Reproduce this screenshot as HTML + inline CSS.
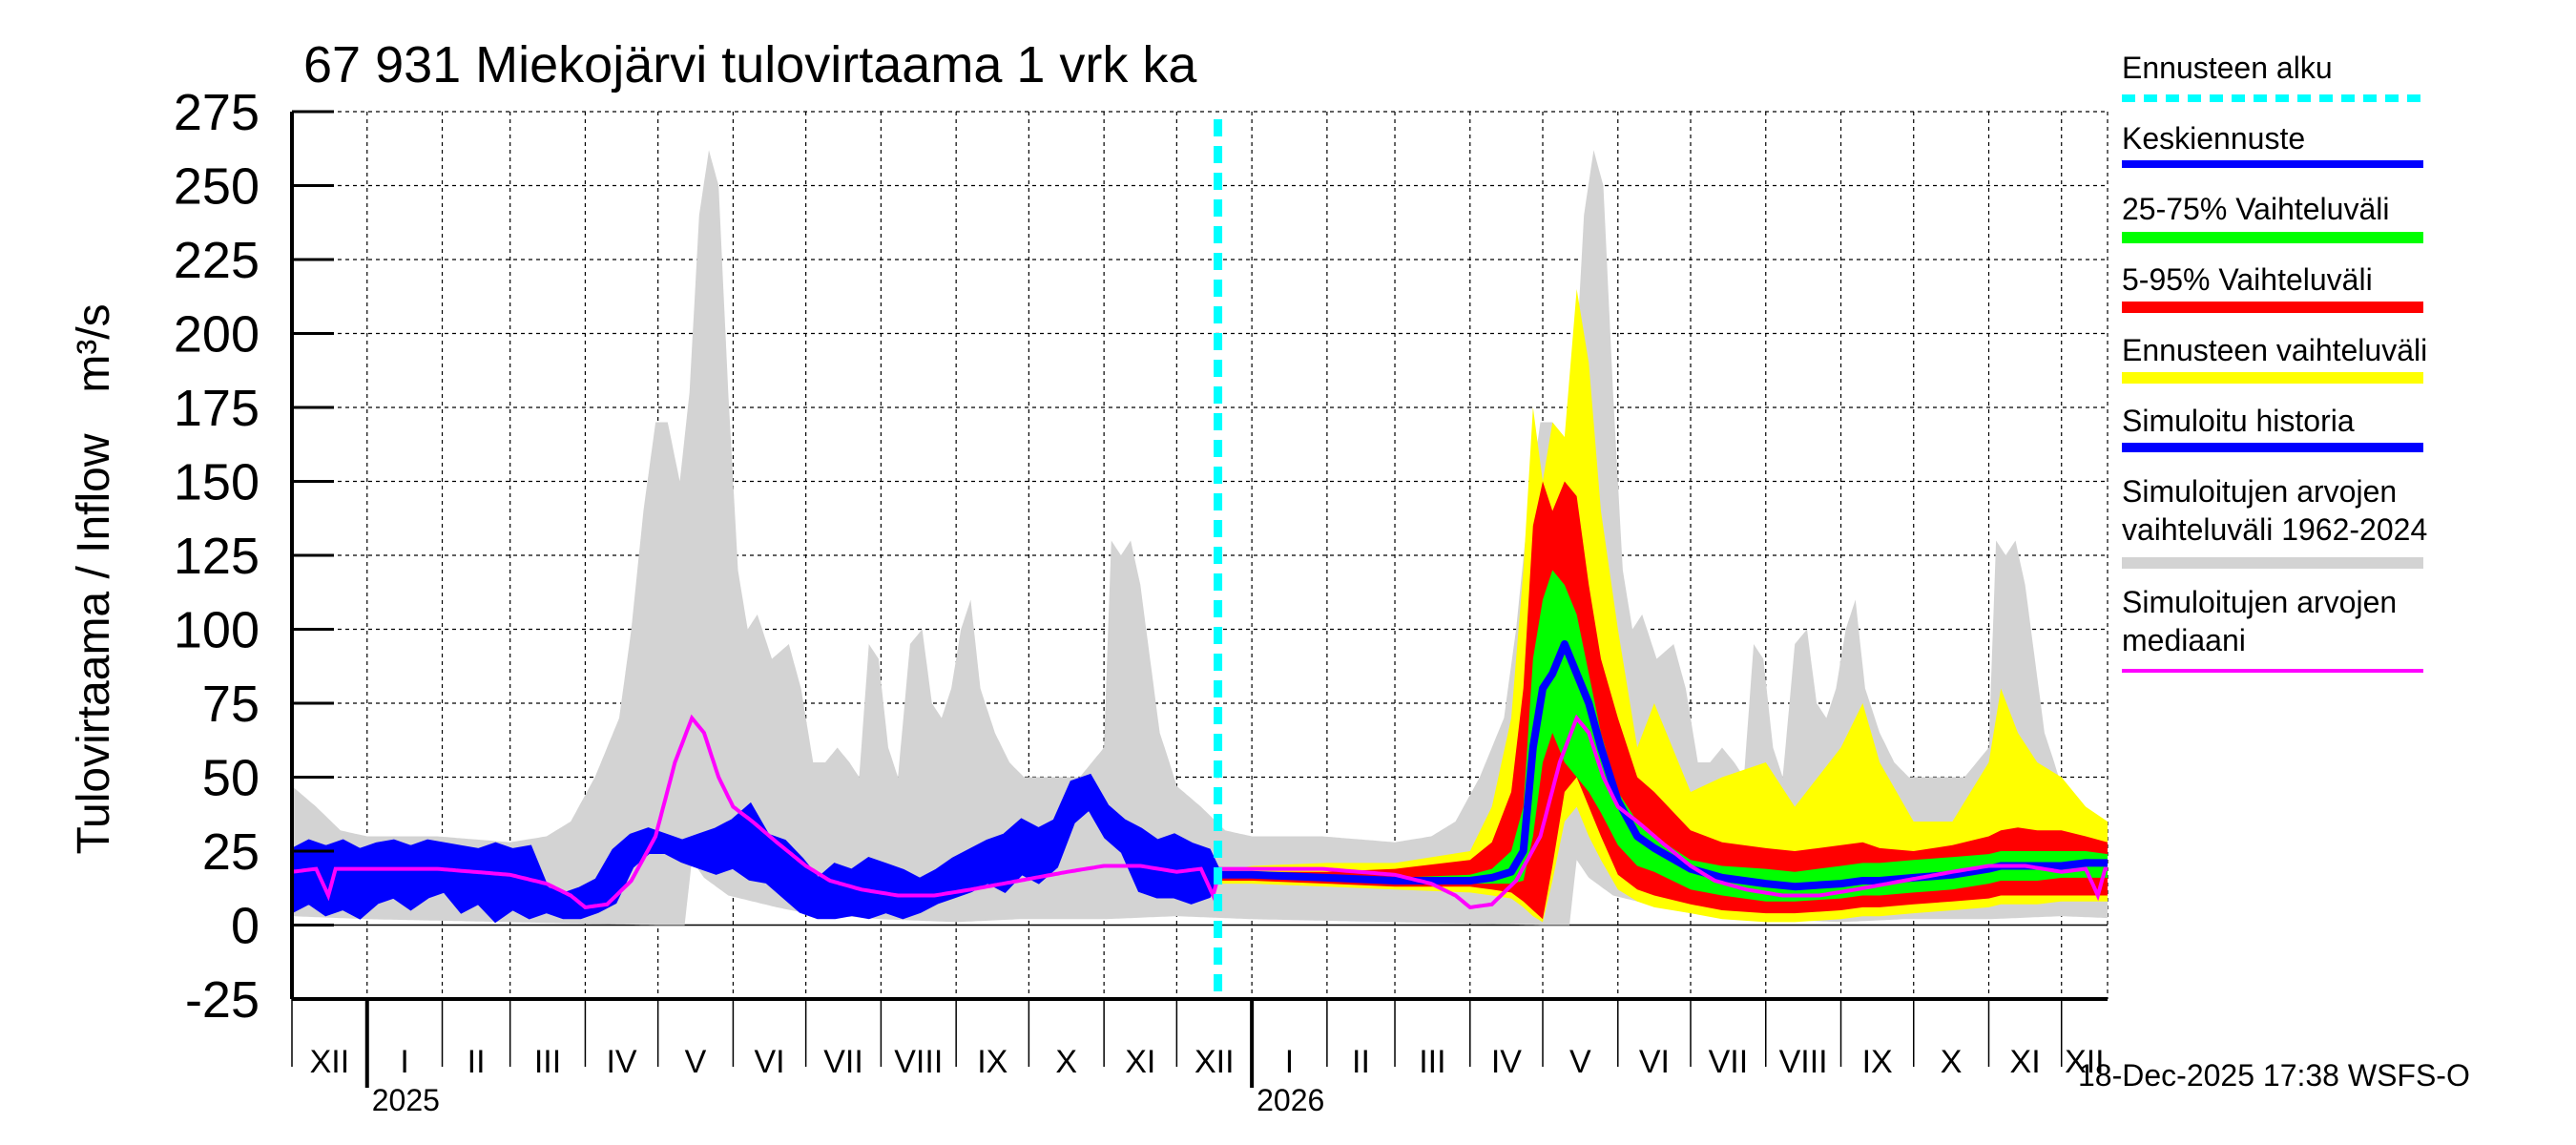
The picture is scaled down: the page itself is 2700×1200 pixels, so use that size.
<!DOCTYPE html>
<html><head><meta charset="utf-8">
<style>
html,body{margin:0;padding:0;background:#fff;}
svg{display:block;font-family:"Liberation Sans",sans-serif;}
</style></head>
<body>
<svg id="chart" width="2700" height="1200" viewBox="0 0 2700 1200" xmlns="http://www.w3.org/2000/svg">
<defs><clipPath id="plotclip"><rect x="306" y="117" width="1903" height="930"/></clipPath></defs>
<text x="318" y="86" font-size="54">67 931 Miekojärvi tulovirtaama 1 vrk ka</text>
<text transform="translate(114,675) rotate(-90)" text-anchor="middle" font-size="48">Tulovirtaama / Inflow</text>
<text transform="translate(114,365) rotate(-90)" text-anchor="middle" font-size="48">m³/s</text>
<g id="grid"></g>
<g id="series" clip-path="url(#plotclip)"></g>
<g id="axes"></g>
<g id="legend"></g>
<text x="2178" y="1138" font-size="32">18-Dec-2025 17:38 WSFS-O</text>
</svg>
<script>
// ---- data ----
const yTicks = [-25,0,25,50,75,100,125,150,175,200,225,250,275];
const monthLabels = ["XII","I","II","III","IV","V","VI","VII","VIII","IX","X","XI","XII","I","II","III","IV","V","VI","VII","VIII","IX","X","XI","XII"];
const monthStarts = [0,31,62,90,121,151,182,212,243,274,304,335,365,396,427,455,486,516,547,577,608,639,669,700,730];
const yearLabels = ["2025","2026"];
const yearStarts = [31,396];
const forecastStart = 382;
// climatology (day offset from 1 Dec)
const climDays = [0,10,20,31,60,90,105,115,125,135,140,145,150,155,160,164,168,172,176,180,184,188,192,198,205,210,215,220,225,230,234,238,242,246,250,255,260,264,268,272,276,280,284,290,296,302,312,325,335,338,342,346,350,354,358,362,365];
const climMax = [47,40,32,30,30,28,30,35,50,70,100,140,170,170,150,180,240,262,250,180,120,100,105,90,95,80,55,55,60,55,50,95,90,60,50,95,100,75,70,80,100,110,80,65,55,50,50,50,60,130,125,130,115,90,65,55,47];
const minDays = [0,31,90,150,162,165,170,180,190,200,212,243,274,300,335,365];
const climMin = [3,2,1,0,0,22,16,10,8,6,4,2,1,2,2,3];
const medDays = [0,10,15,18,31,60,90,105,115,121,130,140,150,158,165,170,176,182,190,200,212,222,235,250,265,280,300,320,335,350,365];
const medVals = [18,19,10,19,19,19,17,14,10,6,7,15,30,55,70,65,50,40,35,28,20,15,12,10,10,12,15,18,20,20,18];
// simulated history
const histDays = [0,7,14,21,28,35,42,49,56,63,70,77,84,91,98,105,112,119,126,133,140,147,154,161,168,175,182,189,196,203,210,217,224,231,238,245,252,259,266,273,280,287,294,301,308,315,322,329,336,343,350,357,364,371,378,382];
const histLo = [5,8,4,6,3,8,10,6,10,12,5,8,2,6,3,5,3,3,5,8,20,25,25,22,20,18,20,16,15,10,5,3,3,4,3,5,3,5,8,10,12,15,12,18,15,20,35,40,30,25,12,10,10,8,10,17];
const histHi = [25,28,26,28,25,27,28,26,28,27,26,25,27,25,26,12,10,12,15,25,30,32,30,28,30,32,35,40,30,28,22,15,20,18,22,20,18,15,18,22,25,28,30,35,32,35,48,50,40,35,32,28,30,27,25,18];
// forecast
const fcDays = [382,396,427,455,486,495,503,508,512,516,520,525,530,535,540,547,555,562,577,590,608,620,639,648,655,669,685,700,705,712,720,730,740,749];
const yMax = [18,20,21,21,25,40,70,120,175,150,170,165,215,190,140,100,60,75,45,50,55,40,60,75,55,35,35,55,80,65,55,50,40,35];
const rMax = [18,18,18,19,22,28,45,80,135,150,140,150,145,115,90,70,50,45,32,28,26,25,27,28,26,25,27,30,32,33,32,32,30,28];
const gMax = [17,17,17,16,17,19,25,40,90,110,120,115,105,85,65,45,35,30,22,20,19,18,20,21,21,22,23,24,25,25,25,25,25,24];
const fcMean = [17,17,16,15,15,16,18,25,60,80,85,95,85,75,60,42,30,26,19,16,14,13,14,15,15,16,17,19,20,20,20,20,21,21];
const gMin = [16,16,15,14,14,14,14,15,30,55,65,55,50,45,38,27,20,18,12,10,8,8,9,10,10,11,12,14,15,15,15,16,16,16];
const rMin = [15,15,14,13,13,12,11,8,5,2,20,45,50,40,30,17,12,10,7,5,4,4,5,6,6,7,8,9,10,10,10,10,10,10];
const yMin = [14,14,13,12,11,10,9,6,3,1,15,35,40,30,22,12,8,6,4,2,1,1,2,3,3,4,5,6,7,7,7,8,8,8];

// ---- scales ----
const X0=306, X1=2209, DMAX=749;
const x = d => X0 + d*(X1-X0)/DMAX;
const y = v => 969.5 - v*(77.5/25);
const NS="http://www.w3.org/2000/svg";
function mk(tag, parent, attrs){const e=document.createElementNS(NS,tag);for(const k in attrs)e.setAttribute(k,attrs[k]);parent.appendChild(e);return e;}
function interp(days, vals, d){
  if(d<=days[0])return vals[0];
  for(let i=1;i<days.length;i++){if(d<=days[i]){const t=(d-days[i-1])/(days[i]-days[i-1]);return vals[i-1]+t*(vals[i]-vals[i-1]);}}
  return vals[vals.length-1];
}
function clim(days, vals, d){return interp(days, vals, ((d%365)+365)%365);}
function bandPath(ds, lo, hi){
  let p="M"+ds.map((d,i)=>x(d).toFixed(1)+","+y(hi[i]).toFixed(1)).join("L");
  for(let i=ds.length-1;i>=0;i--)p+="L"+x(ds[i]).toFixed(1)+","+y(lo[i]).toFixed(1);
  return p+"Z";
}
function linePath(ds, vs){return "M"+ds.map((d,i)=>x(d).toFixed(1)+","+y(vs[i]).toFixed(1)).join("L");}

const grid=document.getElementById("grid"), series=document.getElementById("series"), axes=document.getElementById("axes"), legend=document.getElementById("legend");

yTicks.forEach(v=>{
  if(v===-25)return;
  const g=mk("line",grid,{x1:X0,x2:X1,y1:y(v),y2:y(v),stroke:"#000","stroke-width":v===0?1.5:1.2,"stroke-dasharray":v===0?"none":"4,4"});
  
  
});
monthStarts.forEach(d=>{
  if(d===0)return;
  const g=mk("line",grid,{x1:x(d),x2:x(d),y1:117,y2:1047,stroke:"#000","stroke-width":1.2,"stroke-dasharray":"4,4"});
  
  
});
const rb=mk("line",grid,{x1:X1,x2:X1,y1:117,y2:1047,stroke:"#000","stroke-width":1.2,"stroke-dasharray":"4,4"});



const cd=[];for(let d=0;d<=DMAX;d++)cd.push(d);
const gb=mk("path",series,{d:bandPath(cd,cd.map(d=>clim(minDays,climMin,d)),cd.map(d=>clim(climDays,climMax,d))),fill:"#d3d3d3"});



const fy=mk("path",series,{d:bandPath(fcDays,yMin,yMax),fill:"#ffff00"});


const fr=mk("path",series,{d:bandPath(fcDays,rMin,rMax),fill:"#ff0000"});


const fg=mk("path",series,{d:bandPath(fcDays,gMin,gMax),fill:"#00ff00"});


const fm=mk("path",series,{d:linePath(fcDays,fcMean),fill:"none",stroke:"#0000ff","stroke-width":8,"stroke-linejoin":"round"});



const hb=mk("path",series,{d:bandPath(histDays,histLo,histHi),fill:"#0000ff",stroke:"#0000ff","stroke-width":6});



const ml=mk("path",series,{d:linePath(cd,cd.map(d=>clim(medDays,medVals,d))),fill:"none",stroke:"#ff00ff","stroke-width":4});



const fsl=mk("line",axes,{x1:x(forecastStart),x2:x(forecastStart),y1:125,y2:1047,stroke:"#00ffff","stroke-width":9,"stroke-dasharray":"18,10"});



const la=mk("line",axes,{x1:X0,x2:X0,y1:117,y2:1047,stroke:"#000","stroke-width":4});


const ba=mk("line",axes,{x1:X0,x2:X1,y1:1047,y2:1047,stroke:"#000","stroke-width":4});


yTicks.forEach(v=>{
  const t=mk("line",axes,{x1:X0,x2:X0+44,y1:y(v),y2:y(v),stroke:"#000","stroke-width":3});
  
  
  const l=mk("text",axes,{x:272,y:y(v)+19,"text-anchor":"end","font-size":54});
  l.textContent=v;
  
  
});
monthStarts.forEach((d,i)=>{
  const yr=yearStarts.includes(d);
  const t=mk("line",axes,{x1:x(d),x2:x(d),y1:1047,y2:yr?1140:1118,stroke:"#000","stroke-width":yr?4:1.5});
  
  
  const end=i+1<monthStarts.length?monthStarts[i+1]:DMAX;
  const l=mk("text",axes,{x:(x(d)+x(end))/2,y:1124,"text-anchor":"middle","font-size":34});
  l.textContent=monthLabels[i];
  
  
});
yearLabels.forEach((s,i)=>{
  const l=mk("text",axes,{x:x(yearStarts[i])+5,y:1164,"font-size":32});
  l.textContent=s;
  
  
});

const legItems=[
  {t:["Ennusteen alku"],ty:[82],ly:103,c:"#00ffff",w:8,dash:"14,9",n:"legend-forecast-start"},
  {t:["Keskiennuste"],ty:[156],ly:172,c:"#0000ff",w:8,n:"legend-mean-forecast"},
  {t:["25-75% Vaihteluväli"],ty:[230],ly:249,c:"#00ff00",w:12,n:"legend-25-75"},
  {t:["5-95% Vaihteluväli"],ty:[304],ly:322,c:"#ff0000",w:12,n:"legend-5-95"},
  {t:["Ennusteen vaihteluväli"],ty:[378],ly:396,c:"#ffff00",w:12,n:"legend-forecast-range"},
  {t:["Simuloitu historia"],ty:[452],ly:469,c:"#0000ff",w:10,n:"legend-history"},
  {t:["Simuloitujen arvojen","vaihteluväli 1962-2024"],ty:[526,566],ly:590,c:"#d3d3d3",w:12,n:"legend-sim-range"},
  {t:["Simuloitujen arvojen","mediaani"],ty:[642,682],ly:703,c:"#ff00ff",w:4,n:"legend-median"}
];
legItems.forEach(it=>{
  const g=mk("g",legend,{});
  
  
  it.t.forEach((s,k)=>{const tx=mk("text",g,{x:2224,y:it.ty[k],"font-size":32});tx.textContent=s;});
  const a={x1:2224,x2:2540,y1:it.ly,y2:it.ly,stroke:it.c,"stroke-width":it.w};
  if(it.dash)a["stroke-dasharray"]=it.dash;
  mk("line",g,a);
});
</script>
</body></html>
